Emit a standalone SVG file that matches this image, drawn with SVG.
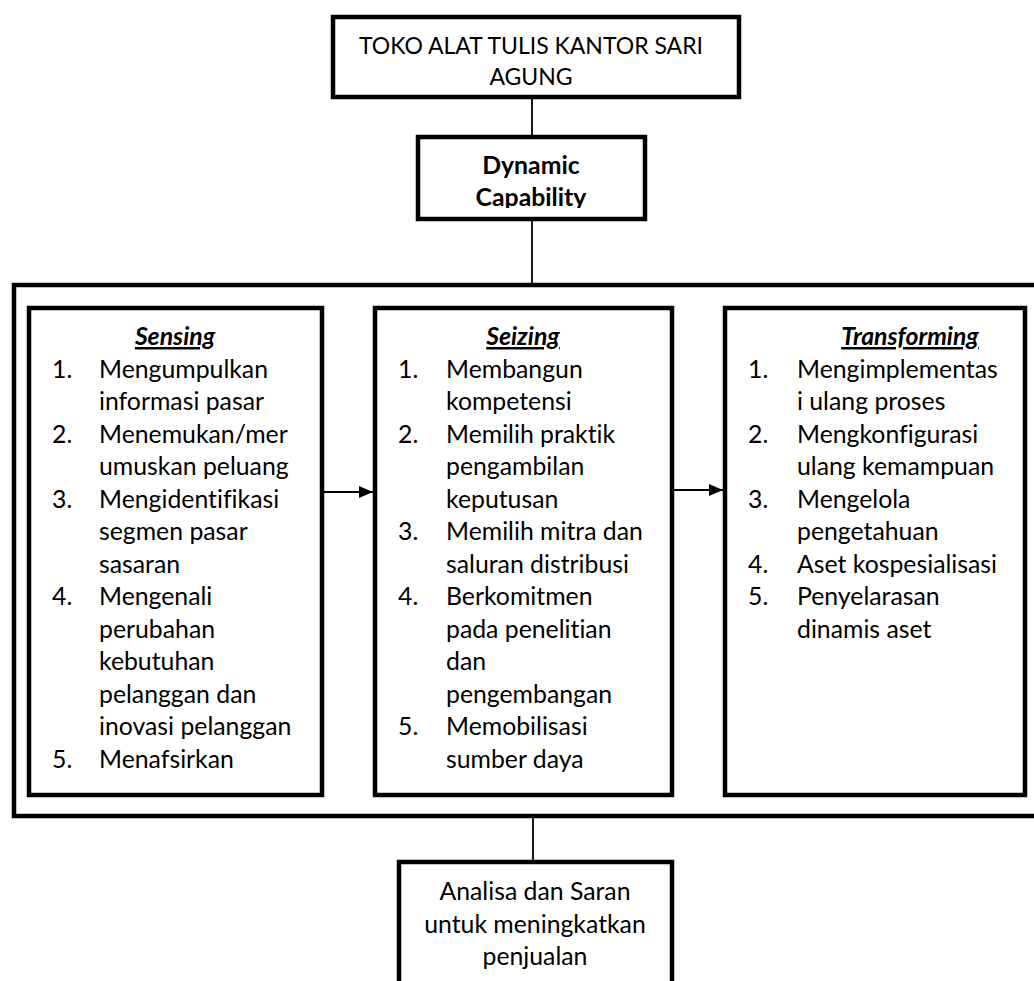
<svg xmlns="http://www.w3.org/2000/svg" width="1034" height="981" viewBox="0 0 1034 981">
<style>
.box{fill:#fff;stroke:#000;stroke-width:4.5}
.outer{fill:none;stroke:#000;stroke-width:4.5}
.t{font-family:Lato,"Liberation Sans",sans-serif;font-size:24.8px;fill:#000;font-variant-ligatures:none}
.tt{font-size:23px}
.c{text-anchor:middle}
.b{font-weight:bold}
.h{font-weight:bold;font-style:italic;text-decoration:underline;text-anchor:middle}
.ln{stroke:#000;stroke-width:1.8;fill:none}
</style>
<defs>
<marker id="ah" markerWidth="14" markerHeight="12" refX="14" refY="6" orient="auto" markerUnits="userSpaceOnUse">
<path d="M0,0 L14,6 L0,12 Z" fill="#000"/>
</marker>
<clipPath id="dcClip"><rect x="420" y="139" width="223" height="69"/></clipPath>
</defs>
<rect class="outer" x="14" y="285" width="1030" height="531"/>
<g id="connectors">
<line class="ln" x1="532" y1="97" x2="532" y2="137"/>
<line class="ln" x1="532" y1="219" x2="532" y2="285"/>
<line class="ln" x1="322" y1="492" x2="373" y2="492" marker-end="url(#ah)"/>
<line class="ln" x1="672" y1="490" x2="723" y2="490" marker-end="url(#ah)"/>
<line class="ln" x1="533" y1="816" x2="533" y2="862"/>
</g>
<g id="top">
<rect class="box" x="333" y="17" width="406" height="80"/>
<text class="t tt c" x="531" y="54">TOKO ALAT TULIS KANTOR SARI</text>
<text class="t tt c" x="531" y="85">AGUNG</text>
</g>
<g id="dynamic">
<rect class="box" x="418" y="137" width="227" height="82"/>
<g clip-path="url(#dcClip)">
<text class="t c b" x="531" y="174">Dynamic</text>
<text class="t c b" x="531" y="206">Capability</text>
</g>
</g>
<g id="sensing">
<rect class="box" x="29" y="308" width="293" height="487"/>
<text class="t h" x="175" y="345">Sensing</text>
<text class="t" x="52" y="377.5">1.</text><text class="t" x="99" y="377.5">Mengumpulkan</text>
<text class="t" x="99" y="410">informasi pasar</text>
<text class="t" x="52" y="442.5">2.</text><text class="t" x="99" y="442.5">Menemukan/mer</text>
<text class="t" x="99" y="475">umuskan peluang</text>
<text class="t" x="52" y="507.5">3.</text><text class="t" x="99" y="507.5">Mengidentifikasi</text>
<text class="t" x="99" y="540">segmen pasar</text>
<text class="t" x="99" y="572.5">sasaran</text>
<text class="t" x="52" y="605">4.</text><text class="t" x="99" y="605">Mengenali</text>
<text class="t" x="99" y="637.5">perubahan</text>
<text class="t" x="99" y="670">kebutuhan</text>
<text class="t" x="99" y="702.5">pelanggan dan</text>
<text class="t" x="99" y="735">inovasi pelanggan</text>
<text class="t" x="52" y="767.5">5.</text><text class="t" x="99" y="767.5">Menafsirkan</text>
</g>
<g id="seizing">
<rect class="box" x="375" y="308" width="297" height="487"/>
<text class="t h" x="523" y="345">Seizing</text>
<text class="t" x="398" y="377.5">1.</text><text class="t" x="446" y="377.5">Membangun</text>
<text class="t" x="446" y="410">kompetensi</text>
<text class="t" x="398" y="442.5">2.</text><text class="t" x="446" y="442.5">Memilih praktik</text>
<text class="t" x="446" y="475">pengambilan</text>
<text class="t" x="446" y="507.5">keputusan</text>
<text class="t" x="398" y="540">3.</text><text class="t" x="446" y="540">Memilih mitra dan</text>
<text class="t" x="446" y="572.5">saluran distribusi</text>
<text class="t" x="398" y="605">4.</text><text class="t" x="446" y="605">Berkomitmen</text>
<text class="t" x="446" y="637.5">pada penelitian</text>
<text class="t" x="446" y="670">dan</text>
<text class="t" x="446" y="702.5">pengembangan</text>
<text class="t" x="398" y="735">5.</text><text class="t" x="446" y="735">Memobilisasi</text>
<text class="t" x="446" y="767.5">sumber daya</text>
</g>
<g id="transforming">
<rect class="box" x="725" y="308" width="300" height="487"/>
<text class="t h" x="910" y="345">Transforming</text>
<text class="t" x="748" y="377.5">1.</text><text class="t" x="797" y="377.5">Mengimplementas</text>
<text class="t" x="797" y="410">i ulang proses</text>
<text class="t" x="748" y="442.5">2.</text><text class="t" x="797" y="442.5">Mengkonfigurasi</text>
<text class="t" x="797" y="475">ulang kemampuan</text>
<text class="t" x="748" y="507.5">3.</text><text class="t" x="797" y="507.5">Mengelola</text>
<text class="t" x="797" y="540">pengetahuan</text>
<text class="t" x="748" y="572.5">4.</text><text class="t" x="797" y="572.5">Aset kospesialisasi</text>
<text class="t" x="748" y="605">5.</text><text class="t" x="797" y="605">Penyelarasan</text>
<text class="t" x="797" y="637.5">dinamis aset</text>
</g>
<g id="result">
<rect class="box" x="399" y="862" width="273" height="140"/>
<text class="t c" x="535" y="900">Analisa dan Saran</text>
<text class="t c" x="535" y="932.5">untuk meningkatkan</text>
<text class="t c" x="535" y="965">penjualan</text>
</g>
</svg>
